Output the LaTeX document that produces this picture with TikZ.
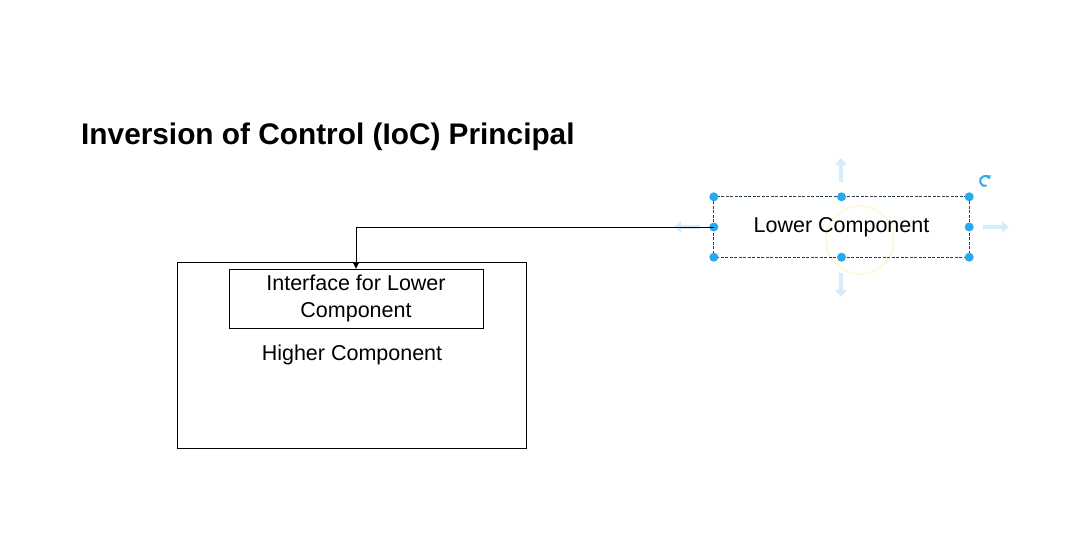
\documentclass[tikz,border=0pt]{standalone}
\usepackage{fontspec}
\setmainfont{Liberation Sans}
\usetikzlibrary{arrows.meta,calc}
\definecolor{handle}{RGB}{41,168,238}
\definecolor{ghost}{RGB}{214,236,250}
\definecolor{selline}{RGB}{40,60,80}
\definecolor{hoverring}{RGB}{252,250,220}
\tikzset{
  box/.style={draw=black, line width=0.9pt, inner sep=0pt},
  lbl/.style={font=\fontsize{21.5}{27}\selectfont, align=center, inner sep=0pt},
  hdot/.style={circle, fill=handle, minimum size=9pt, inner sep=0pt},
  ghostarrow/.style={ghost, line width=3.5pt, -{Triangle[length=7pt,width=11pt]}},
  conn/.style={draw=black, line width=0.9pt, -{Triangle[length=6pt,width=6pt]}},
}
\begin{document}
\begin{tikzpicture}[x=1pt,y=-1pt]
\useasboundingbox (0,0) rectangle (1065,539);
% title
\node[anchor=base west, inner sep=0pt, font=\fontsize{29.8}{34}\selectfont\bfseries] (title) at (81,144) {Inversion of Control (IoC) Principal};
% higher component
\node[box, minimum width=349pt, minimum height=186pt] (higher) at (351.5,355) {};
\node[lbl] (higherlbl) at (352,355) {Higher Component};
\node[box, minimum width=254pt, minimum height=59pt, lbl, draw=black, line width=0.9pt] (iface) at (356,298.5) {Interface for Lower\\Component};
% lower component (selected)
\draw[hoverring, line width=2pt] (860,240) circle (34);
\draw[ghostarrow] (841,182) -- (841,158);
\draw[ghostarrow] (841,273) -- (841,297);
\draw[ghostarrow] (700,227) -- (674,227);
\draw[ghostarrow] (983,227) -- (1009,227);
\node[lbl, minimum width=255pt, minimum height=60pt] (lower) at (841.5,227) {Lower Component};
\draw[selline, line width=0.8pt, dash pattern=on 3pt off 1.5pt] (lower.north west) rectangle (lower.south east);
\foreach \a in {north west,north,north east,east,south east,south,south west,west}
  \node[hdot] at (lower.\a) {};
% rotate handle
\draw[handle, line width=2pt, -{Triangle[length=3.5pt,width=5pt]}] ($(985,181)+(70:5)$) arc (70:340:5);
% connector
\draw[conn] (lower.west) -| (iface.north);
\end{tikzpicture}
\end{document}
